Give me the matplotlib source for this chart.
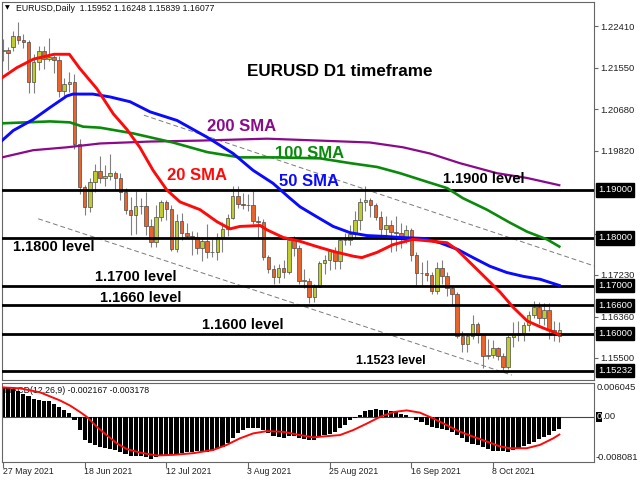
import matplotlib
matplotlib.use("Agg")
import matplotlib.pyplot as plt
import matplotlib.transforms as mtransforms
from matplotlib.patches import Rectangle
import numpy as np

plt.rcParams['font.family'] = ['Liberation Sans', 'DejaVu Sans']

# ---------------- data ----------------
date_labels = ["27 May 2021", "18 Jun 2021", "12 Jul 2021", "3 Aug 2021",
               "25 Aug 2021", "16 Sep 2021", "8 Oct 2021"]
date_bars = [0, 16, 32, 48, 64, 80, 96]

opens = [
    1.2190, 1.2192, 1.2198, 1.2222, 1.2212, 1.2209, 1.2126, 1.2166, 1.2190, 1.2174,
    1.2178, 1.2172, 1.2107, 1.2121, 1.2125, 1.1995, 1.1906, 1.1864, 1.1916, 1.1940,
    1.1926, 1.1930, 1.1936, 1.1925, 1.1896, 1.1858, 1.1847, 1.1866, 1.1867, 1.1824,
    1.1791, 1.1843, 1.1876, 1.1861, 1.1776, 1.1836, 1.1811, 1.1805, 1.1801, 1.1780,
    1.1794, 1.1771, 1.1771, 1.1801, 1.1818, 1.1842, 1.1888, 1.1871, 1.1868, 1.1868,
    1.1835, 1.1833, 1.1761, 1.1736, 1.1718, 1.1738, 1.1729, 1.1795, 1.1779, 1.1711,
    1.1711, 1.1676, 1.1698, 1.1748, 1.1755, 1.1773, 1.1751, 1.1795, 1.1796, 1.1808,
    1.1838, 1.1876, 1.1880, 1.1869, 1.1843, 1.1818, 1.1826, 1.1813, 1.1811, 1.1800,
    1.1817, 1.1765, 1.1726, 1.1726, 1.1723, 1.1689, 1.1738, 1.1720, 1.1695, 1.1684,
    1.1596, 1.1578, 1.1595, 1.1620, 1.1597, 1.1554, 1.1555, 1.1570, 1.1553, 1.1530,
    1.1594, 1.1598, 1.1602, 1.1618, 1.1640, 1.1657, 1.1633, 1.1650, 1.1609, 1.1595,
]
highs = [
    1.2214, 1.2199, 1.2231, 1.2251, 1.2225, 1.2212, 1.2184, 1.2200, 1.2200, 1.2216,
    1.2182, 1.2180, 1.2133, 1.2146, 1.2141, 1.2007, 1.1910, 1.1925, 1.1955, 1.1970,
    1.1953, 1.1975, 1.1940, 1.1935, 1.1905, 1.1885, 1.1898, 1.1884, 1.1895, 1.1839,
    1.1868, 1.1880, 1.1880, 1.1868, 1.1849, 1.1852, 1.1831, 1.1815, 1.1812, 1.1803,
    1.1829, 1.1802, 1.1810, 1.1833, 1.1849, 1.1909, 1.1909, 1.1893, 1.1891, 1.1900,
    1.1846, 1.1840, 1.1765, 1.1743, 1.1745, 1.1754, 1.1803, 1.1805, 1.1786, 1.1736,
    1.1717, 1.1703, 1.1752, 1.1764, 1.1777, 1.1782, 1.1801, 1.1811, 1.1826, 1.1857,
    1.1883, 1.1909, 1.1884, 1.1873, 1.1857, 1.1845, 1.1838, 1.1846, 1.1831, 1.1826,
    1.1820, 1.1771, 1.1750, 1.1754, 1.1730, 1.1750, 1.1753, 1.1728, 1.1700, 1.1687,
    1.1605, 1.1600, 1.1640, 1.1625, 1.1600, 1.1590, 1.1588, 1.1573, 1.1560, 1.1597,
    1.1624, 1.1627, 1.1624, 1.1648, 1.1669, 1.1666, 1.1665, 1.1665, 1.1626, 1.1625,
]
lows = [
    1.2169, 1.2150, 1.2189, 1.2205, 1.2197, 1.2103, 1.2103, 1.2151, 1.2153, 1.2168,
    1.2144, 1.2093, 1.2093, 1.2104, 1.1985, 1.1892, 1.1847, 1.1855, 1.1895, 1.1915,
    1.1908, 1.1920, 1.1900, 1.1880, 1.1850, 1.1807, 1.1808, 1.1850, 1.1806, 1.1782,
    1.1782, 1.1836, 1.1837, 1.1772, 1.1771, 1.1796, 1.1800, 1.1764, 1.1766, 1.1752,
    1.1758, 1.1761, 1.1755, 1.1770, 1.1805, 1.1839, 1.1863, 1.1861, 1.1857, 1.1830,
    1.1800, 1.1755, 1.1727, 1.1705, 1.1707, 1.1716, 1.1725, 1.1762, 1.1705, 1.1696,
    1.1664, 1.1666, 1.1697, 1.1725, 1.1734, 1.1735, 1.1735, 1.1785, 1.1786, 1.1800,
    1.1817, 1.1856, 1.1843, 1.1837, 1.1802, 1.1803, 1.1770, 1.1773, 1.1780, 1.1789,
    1.1751, 1.1701, 1.1700, 1.1710, 1.1684, 1.1684, 1.1703, 1.1679, 1.1663, 1.1592,
    1.1563, 1.1563, 1.1590, 1.1580, 1.1529, 1.1548, 1.1550, 1.1545, 1.1524, 1.1527,
    1.1572, 1.1585, 1.1585, 1.1607, 1.1634, 1.1620, 1.1618, 1.1590, 1.1585, 1.1584,
]
closes = [
    1.2192, 1.2186, 1.2222, 1.2212, 1.2209, 1.2126, 1.2166, 1.2190, 1.2174, 1.2178,
    1.2172, 1.2107, 1.2121, 1.2125, 1.1995, 1.1906, 1.1864, 1.1916, 1.1940, 1.1926,
    1.1930, 1.1936, 1.1925, 1.1896, 1.1858, 1.1847, 1.1866, 1.1867, 1.1824, 1.1791,
    1.1843, 1.1876, 1.1861, 1.1776, 1.1836, 1.1811, 1.1805, 1.1801, 1.1780, 1.1794,
    1.1771, 1.1771, 1.1801, 1.1818, 1.1842, 1.1888, 1.1871, 1.1868, 1.1868, 1.1835,
    1.1833, 1.1761, 1.1736, 1.1718, 1.1738, 1.1729, 1.1795, 1.1779, 1.1711, 1.1711,
    1.1676, 1.1698, 1.1748, 1.1755, 1.1773, 1.1751, 1.1795, 1.1796, 1.1808, 1.1838,
    1.1876, 1.1880, 1.1869, 1.1843, 1.1818, 1.1826, 1.1813, 1.1811, 1.1800, 1.1817,
    1.1765, 1.1726, 1.1726, 1.1723, 1.1689, 1.1738, 1.1720, 1.1695, 1.1684, 1.1596,
    1.1578, 1.1595, 1.1620, 1.1597, 1.1554, 1.1555, 1.1570, 1.1553, 1.1530, 1.1594,
    1.1598, 1.1602, 1.1618, 1.1640, 1.1657, 1.1633, 1.1650, 1.1609, 1.1599, 1.1608,
]

# moving averages, sampled along each line (bar index, price)
sma20_x = [-0.2, 2.7, 6, 10, 13, 15, 18.4, 21.6, 24.3, 26.8, 29.4, 32.1, 34.7, 38.6,
           41.9, 44.5, 46.4, 50.4, 51.7, 54.9, 58.2, 61.5, 64.7, 68.6, 70.3, 73.3,
           76.4, 80.3, 84.2, 87, 88.9, 93.5, 97.4, 99.9, 102.7, 105.2, 107.8, 109]
sma20_y = [1.2134, 1.2155, 1.2173, 1.2183, 1.2183, 1.2154, 1.2111, 1.2059, 1.2026,
           1.1989, 1.1941, 1.1900, 1.1875, 1.1859, 1.1834, 1.1819, 1.1824, 1.1826,
           1.1817, 1.1801, 1.1793, 1.1782, 1.1772, 1.1762, 1.1759, 1.1770, 1.1786,
           1.1797, 1.1793, 1.1790, 1.1776, 1.1728, 1.1687, 1.1656, 1.1627, 1.1615,
           1.1604, 1.1598]
sma50_x = [-0.2, 2, 5.9, 9.2, 12.5, 13.7, 17.6, 21, 24.9, 28.8, 34.1, 40, 45.1, 49,
           52.9, 56.2, 58.2, 61.5, 64.7, 68, 71.3, 75.2, 77.8, 82.3, 85.6, 89.1,
           92.1, 95.4, 98.7, 101.9, 105.2, 109]
sma50_y = [1.2003, 1.2024, 1.2047, 1.2072, 1.2096, 1.2100, 1.2100, 1.2094, 1.2084,
           1.2063, 1.2045, 1.2010, 1.1976, 1.1941, 1.1914, 1.1883, 1.1865, 1.1844,
           1.1824, 1.1811, 1.1805, 1.1803, 1.1801, 1.1799, 1.1790, 1.1776, 1.1759,
           1.1741, 1.1728, 1.1720, 1.1714, 1.1701]
sma100_x = [-0.2, 9.2, 13.1, 15.7, 19, 25.5, 33.3, 40, 46.4, 52.9, 62.1, 68, 73.3,
            77.8, 83.1, 87, 90.1, 94.8, 99.3, 102.7, 106.6, 109]
sma100_y = [1.2039, 1.2043, 1.2041, 1.2032, 1.2030, 1.2018, 1.1999, 1.1979, 1.1968,
            1.1968, 1.1966, 1.1956, 1.1948, 1.1935, 1.1917, 1.1904, 1.1883, 1.1859,
            1.1832, 1.1813, 1.1797, 1.1782]
sma200_x = [-0.2, 5.9, 12.5, 19, 28.8, 38.6, 51.7, 62.1, 71.9, 78.4, 83.7, 89.5,
            96.8, 102.7, 109]
sma200_y = [1.1968, 1.1983, 1.1989, 1.1997, 1.2001, 1.2003, 1.2007, 1.2003, 1.1999,
            1.1989, 1.1976, 1.1956, 1.1935, 1.1925, 1.1910]

# horizontal levels and their notes
levels = [1.19000, 1.18000, 1.17000, 1.16600, 1.16000, 1.15232]
level_notes = ["1.1900 level", "1.1800 level", "1.1700 level", "1.1660 level",
               "1.1600 level", "1.1523 level"]
note_x = [94.1, 10.0, 26.1, 27.0, 46.9, 76.0]
note_y = [1.19219, 1.17812, 1.17186, 1.16738, 1.16175, 1.15424]

price_ticks = [1.22410, 1.21550, 1.20680, 1.19820, 1.18090, 1.17230,
               1.16360, 1.16077, 1.15500]

# dashed channel
chan_up_x = [27.6, 116.0]
chan_up_y = [1.2056, 1.1741]
chan_lo_x = [6.9, 99.7]
chan_lo_y = [1.1840, 1.1514]

# MACD(12,26,9), in units of 1e-3
macd_hist = [
    5.27, 5.09, 4.97, 4.68, 4.09, 3.68, 3.21, 3.09, 2.91, 2.74,
    2.33, 1.74, 1.15, 0.74, -0.62, -2.38, -4.15, -4.74, -5.03, -5.33,
    -5.50, -5.74, -5.92, -6.21, -6.68, -6.92, -6.92, -6.98, -7.21, -7.50,
    -7.27, -6.98, -6.80, -6.80, -6.68, -6.50, -6.33, -6.21, -6.09, -6.09,
    -6.21, -6.09, -5.74, -5.33, -4.74, -3.86, -2.97, -2.38, -2.09, -1.97,
    -1.97, -2.38, -2.97, -3.44, -3.56, -3.74, -3.38, -3.44, -3.74, -3.97,
    -4.15, -4.15, -3.56, -3.27, -3.15, -2.68, -2.09, -1.50, -0.62, -0.21,
    0.26, 0.97, 1.27, 1.32, 1.27, 1.15, 0.97, 0.85, 0.56, 0.38,
    -0.03, -0.50, -0.91, -1.38, -1.80, -2.09, -2.21, -2.27, -2.68, -3.27,
    -3.86, -4.44, -4.91, -5.03, -5.33, -5.74, -6.09, -6.09, -6.09, -6.33,
    -5.92, -5.62, -5.21, -4.91, -4.44, -4.03, -3.68, -3.27, -2.55, -2.17,
]
signal_x = [-0.2, 3.3, 7.2, 11.2, 13.1, 15.1, 16.4, 18.4, 20.3, 22.3, 24.2, 26.8,
            30.1, 33.4, 37.3, 41.2, 43.8, 46.4, 49, 51.7, 54.9, 58.2, 60.8, 62.1,
            66, 68.6, 71.3, 73.9, 76.5, 79.1, 81.7, 84.3, 86.9, 89.5, 92.1, 94.8,
            97.4, 99.3, 102.6, 105.2, 107.8, 109]
signal_y = [5.27, 5.09, 4.39, 2.91, 2.03, 0.85, 0.0, -1.80, -3.27, -4.74, -5.74,
            -6.39, -6.92, -6.80, -6.50, -5.92, -5.03, -3.86, -2.97, -2.56, -2.68,
            -3.27, -3.68, -3.56, -3.27, -2.38, -1.20, 0.0, 0.85, 1.15, 0.74, -0.29,
            -1.47, -2.65, -3.54, -4.42, -5.30, -5.62, -5.62, -5.03, -3.86, -3.18]

# ---------------- figure ----------------
W, H = 640, 480
fig = plt.figure(figsize=(6.4, 4.8), dpi=100)
fig.patch.set_facecolor("white")

# main panel: px x 2..594, y 2..380 ; macd panel: y 383..462
ax = fig.add_axes([2 / W, 1 - 380 / H, 592 / W, 378 / H])
ax2 = fig.add_axes([2 / W, 1 - 462 / H, 592 / W, 79 / H])

x_lo, x_hi = -0.2, 115.8
ax.set_xlim(x_lo, x_hi)
ax.set_ylim(1.15038, 1.22920)
ax2.set_xlim(x_lo, x_hi)
ax2.set_ylim(-8.081, 6.045)

frame_col = "#666666"
for a in (ax, ax2):
    for s in a.spines.values():
        s.set_color(frame_col)
        s.set_linewidth(0.8)

# candles
bull, bear = "#BFCB30", "#E8642A"
idx = np.arange(len(closes))
o = np.array(opens)
c = np.array(closes)
hi = np.array(highs)
lo = np.array(lows)
up = c >= o
ax.vlines(idx, lo, hi, color="#808080", lw=0.8, zorder=2)
body_lo = np.minimum(o, c)
body_h = np.maximum(np.abs(c - o), 0.00004)
ax.bar(idx[up], body_h[up], bottom=body_lo[up], width=0.7, color=bull,
       edgecolor="#4a4a4a", linewidth=0.5, zorder=2.5)
ax.bar(idx[~up], body_h[~up], bottom=body_lo[~up], width=0.7, color=bear,
       edgecolor="#4a4a4a", linewidth=0.5, zorder=2.5)

# channel
ax.plot(chan_up_x, chan_up_y, color="#7a7a7a", lw=0.7, ls=(0, (5, 3)), zorder=2.2)
ax.plot(chan_lo_x, chan_lo_y, color="#7a7a7a", lw=0.7, ls=(0, (5, 3)), zorder=2.2)

# moving averages
ax.plot(sma200_x, sma200_y, color="#8B0A8B", lw=1.6, zorder=4)
ax.plot(sma100_x, sma100_y, color="#0A8A0A", lw=1.9, zorder=4)
ax.plot(sma50_x, sma50_y, color="#0A0AFF", lw=2.1, zorder=4)
ax.plot(sma20_x, sma20_y, color="#FF0A0A", lw=2.1, zorder=4)

# horizontal levels
for lv in levels:
    ax.axhline(lv, color="black", lw=2.0, zorder=3.5)

# right price scale
ax.yaxis.tick_right()
ax.set_yticks(price_ticks)
ax.set_yticklabels([f"{t:.5f}" for t in price_ticks])
ax.tick_params(axis="y", length=3, width=0.8, color=frame_col, labelsize=6.8,
               pad=1.2, labelcolor="#222222")
ax.set_xticks([])

blend = mtransforms.blended_transform_factory(ax.transAxes, ax.transData)
for lv in levels:
    ax.text(1 + 4 / 592, lv, f"{lv:.5f}", transform=blend, ha="left", va="center",
            fontsize=6.8, color="white", zorder=10,
            bbox=dict(boxstyle="square,pad=0.22", fc="black", ec="black"))

# notes
bold = dict(fontweight="bold", ha="center", va="center", zorder=8)
ax.text(66.0, 1.21481, "EURUSD D1 timeframe", fontsize=12.3, color="black", **bold)
ax.text(46.8, 1.20334, "200 SMA", fontsize=12, color="#8B0A8B", **bold)
ax.text(60.1, 1.19751, "100 SMA", fontsize=12, color="#0A8A0A", **bold)
ax.text(38.1, 1.19302, "20 SMA", fontsize=12, color="#FF0A0A", **bold)
ax.text(60.0, 1.19167, "50 SMA", fontsize=12, color="#0A0AFF", **bold)
for name, nx, ny in zip(level_notes, note_x, note_y):
    fs = 9 if name.startswith("1.1523") else 10.5
    ax.text(nx, ny, name, fontsize=fs, color="black", **bold)

# header
fig.text(7 / W, 1 - 8 / H, "\u25BC", fontsize=4.5, ha="center", va="center",
         family="DejaVu Sans")
fig.text(16 / W, 1 - 8.5 / H, "EURUSD,Daily  1.15952 1.16248 1.15839 1.16077",
         fontsize=6.3, ha="left", va="center", color="#111111")

# MACD panel
ax2.text(2 / 592, 0.90, "MACD(12,26,9) -0.002167 -0.003178", transform=ax2.transAxes,
         fontsize=6.3, ha="left", va="center", color="#111111", zorder=1)
ax2.axhline(0, color="#444444", lw=0.8, zorder=1.8)
ax2.bar(idx, macd_hist, width=0.8, color="black", zorder=2)
ax2.plot(signal_x, signal_y, color="#FF0A0A", lw=1.4, zorder=3)
ax2.set_yticks([])
ax2.set_xticks(date_bars)
ax2.tick_params(axis="x", length=4, width=0.8, color=frame_col, labelbottom=False)

blend2 = mtransforms.blended_transform_factory(ax2.transAxes, ax2.transData)
zx = 1 + 3 / 592
ax2.add_patch(Rectangle((1 + 2 / 592, -0.95), 5.5 / 592, 1.8, transform=blend2,
                        facecolor="black", edgecolor="none", clip_on=False, zorder=5))
ax2.text(zx, 0.0, "0", transform=blend2, ha="left", va="center",
         fontsize=6.8, color="white", zorder=6)
ax2.text(zx + 5.3 / 592, 0.0, ".00", transform=blend2, ha="left", va="center",
         fontsize=6.8, color="#222222", zorder=6)
ax2.text(zx, 6.045, "0.006045", transform=blend2, ha="left", va="top",
         fontsize=6.8, color="#222222")
ax2.text(1 + 2 / 592, -8.081, "-0.008081", transform=blend2, ha="left", va="bottom",
         fontsize=6.8, color="#222222")

blend3 = mtransforms.blended_transform_factory(ax2.transData, ax2.transAxes)
for lab, pos in zip(date_labels, date_bars):
    ax2.text(pos - 0.1, -0.115, lab, transform=blend3, ha="left", va="center",
             fontsize=6.3, color="#222222")

fig.savefig("out.png", dpi=100)
